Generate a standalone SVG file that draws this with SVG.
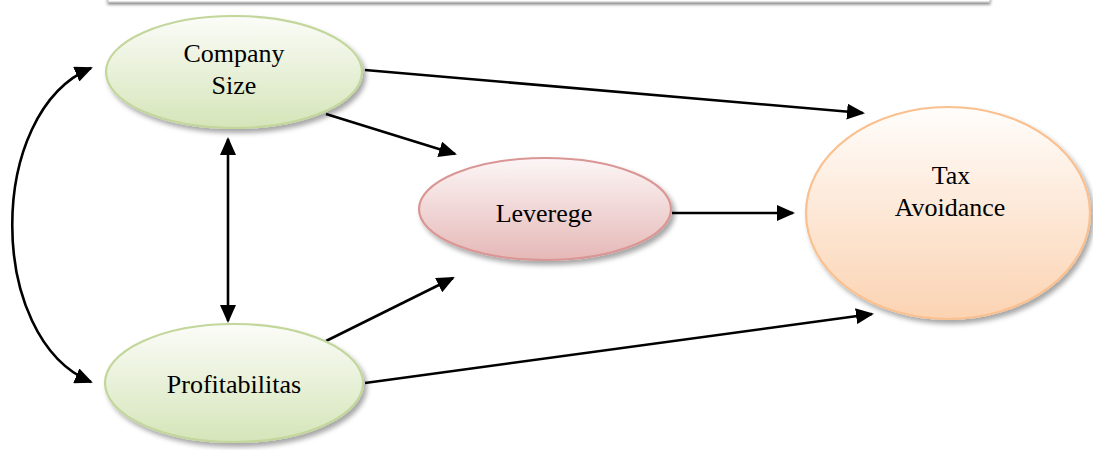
<svg xmlns="http://www.w3.org/2000/svg" width="1093" height="450" viewBox="0 0 1093 450">
<style>
.lbl{font-family:"Liberation Serif","Times New Roman",serif;font-size:26px;fill:#000;text-anchor:middle}
.conn{fill:none;stroke:#000;stroke-width:2.6}
.ell{stroke-width:2.2}
</style>
<defs>
<filter id="sh" x="-20%" y="-20%" width="140%" height="150%">
<feDropShadow dx="3" dy="4" stdDeviation="2.5" flood-color="#000" flood-opacity="0.35"/>
</filter>
<filter id="shb" x="-5%" y="-100%" width="110%" height="400%">
<feDropShadow dx="0" dy="2" stdDeviation="1.8" flood-color="#000" flood-opacity="0.5"/>
</filter>
<linearGradient id="gG" x1="0" y1="0" x2="0" y2="1">
<stop offset="0" stop-color="#fbfcf8"/>
<stop offset="1" stop-color="#d5e5b9"/>
</linearGradient>
<linearGradient id="gR" x1="0" y1="0" x2="0" y2="1">
<stop offset="0" stop-color="#fcf6f6"/>
<stop offset="1" stop-color="#e5b8b7"/>
</linearGradient>
<linearGradient id="gO" x1="0" y1="0" x2="0" y2="1">
<stop offset="0" stop-color="#fffdfb"/>
<stop offset="1" stop-color="#fbd3b2"/>
</linearGradient>
<marker id="ah" viewBox="0 0 18 16" markerWidth="18" markerHeight="16" refX="16" refY="8" orient="auto-start-reverse" markerUnits="userSpaceOnUse">
<path d="M0,0 L18,8 L0,16 z" fill="#000"/>
</marker>
</defs>
<rect x="108" y="-20" width="882" height="22" fill="#ffffff" stroke="#c0c0c0" stroke-width="1" filter="url(#shb)"/>
<g id="connectors">
<line class="conn" x1="365" y1="70" x2="863" y2="113" marker-end="url(#ah)"/>
<line class="conn" x1="326" y1="114" x2="455" y2="154" marker-end="url(#ah)"/>
<line class="conn" x1="672" y1="213" x2="793" y2="213" marker-end="url(#ah)"/>
<line class="conn" x1="326" y1="341" x2="453" y2="278" marker-end="url(#ah)"/>
<line class="conn" x1="365" y1="383" x2="872" y2="314" marker-end="url(#ah)"/>
<line class="conn" x1="228" y1="139" x2="228" y2="321" marker-start="url(#ah)" marker-end="url(#ah)"/>
<path class="conn" d="M91,68 C-14,112 -14,338 91,382" marker-start="url(#ah)" marker-end="url(#ah)"/>
</g>
<g id="company-size">
<ellipse class="ell" cx="234" cy="72" rx="128" ry="56" fill="url(#gG)" stroke="#c3d69b" filter="url(#sh)"/>
<text class="lbl" x="234" y="62">Company</text>
<text class="lbl" x="234" y="94">Size</text>
</g>
<g id="profitabilitas">
<ellipse class="ell" cx="234" cy="383" rx="129" ry="59" fill="url(#gG)" stroke="#c3d69b" filter="url(#sh)"/>
<text class="lbl" x="234" y="393">Profitabilitas</text>
</g>
<g id="leverege">
<ellipse class="ell" cx="545" cy="209" rx="126" ry="51" fill="url(#gR)" stroke="#d99694" filter="url(#sh)"/>
<text class="lbl" x="544" y="222">Leverege</text>
</g>
<g id="tax-avoidance">
<ellipse class="ell" cx="948" cy="213" rx="142" ry="106" fill="url(#gO)" stroke="#fac08f" filter="url(#sh)"/>
<text class="lbl" x="951" y="184">Tax</text>
<text class="lbl" x="950" y="216">Avoidance</text>
</g>
</svg>
